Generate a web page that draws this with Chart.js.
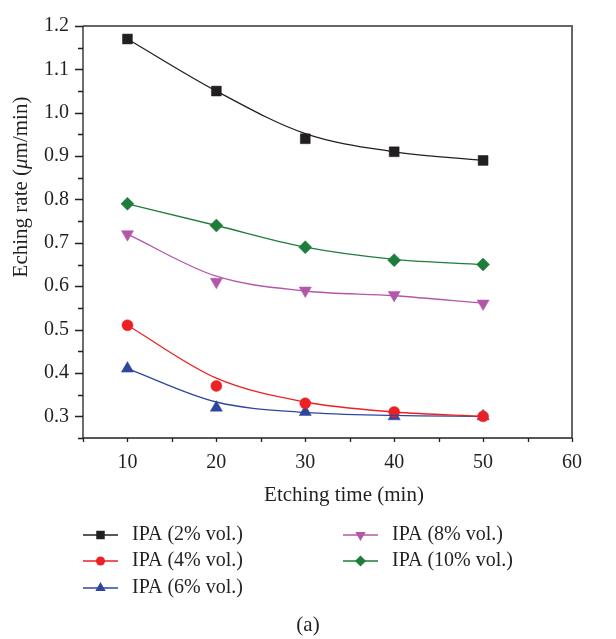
<!DOCTYPE html>
<html>
<head>
<script src="https://cdn.jsdelivr.net/npm/chart.js@4.4.1/dist/chart.umd.min.js"></script>
<style>
    body { margin: 0; background: #fff; }
</style>
</head>
<body>
<canvas id="etchChart" width="616" height="639"></canvas>
<script>
// etching time (min)
const times = [10, 20, 30, 40, 50];

// measured etching rate (um/min)
const ipa2 = [1.17, 1.05, 0.94, 0.91, 0.89];
const ipa4 = [0.51, 0.37, 0.33, 0.31, 0.30];
const ipa6 = [0.41, 0.32, 0.31, 0.30, 0.30];
const ipa8 = [0.72, 0.61, 0.59, 0.58, 0.56];
const ipa10 = [0.79, 0.74, 0.69, 0.66, 0.65];

// fitted curves, same time points
const fit2 = [1.17, 1.05, 0.952, 0.91, 0.89];
const fit4 = [0.51, 0.388, 0.333, 0.31, 0.30];
const fit6 = [0.41, 0.333, 0.309, 0.302, 0.30];
const fit8 = [0.72, 0.623, 0.589, 0.578, 0.561];
const fit10 = [0.79, 0.74, 0.69, 0.662, 0.65];

const seriesNames = ['IPA (2% vol.)', 'IPA (4% vol.)', 'IPA (6% vol.)', 'IPA (8% vol.)', 'IPA (10% vol.)'];
const xTicks = [10, 20, 30, 40, 50, 60];
const yTicks = [0.3, 0.4, 0.5, 0.6, 0.7, 0.8, 0.9, 1.0, 1.1, 1.2];

const FONT = '"Liberation Serif", "Times New Roman", serif';
const INK = '#231f20';

const styles = [
    { color: '#231f20', shape: 'rect', r: 7, rot: 0 },
    { color: '#ed2024', shape: 'circle', r: 5.5, rot: 0 },
    { color: '#2e479c', shape: 'triangle', r: 7, rot: 0 },
    { color: '#b357a8', shape: 'triangle', r: 7, rot: 180 },
    { color: '#1f7d3b', shape: 'rectRot', r: 6.5, rot: 0 }
];

const measured = [ipa2, ipa4, ipa6, ipa8, ipa10];
const fitted = [fit2, fit4, fit6, fit8, fit10];

function pts(vals) {
    return times.map((t, i) => ({ x: t, y: vals[i] }));
}

const datasets = [];
fitted.forEach((f, i) => {
    datasets.push({
        label: seriesNames[i] + ' fit',
        data: pts(f),
        showLine: true,
        borderColor: styles[i].color,
        borderWidth: 1.3,
        pointRadius: 0,
        cubicInterpolationMode: 'monotone'
    });
});
measured.forEach((m, i) => {
    datasets.push({
        label: seriesNames[i],
        data: pts(m),
        showLine: false,
        pointStyle: styles[i].shape,
        pointRotation: styles[i].rot,
        pointRadius: styles[i].r,
        pointBackgroundColor: styles[i].color,
        pointBorderColor: styles[i].color,
        pointBorderWidth: 0.5
    });
});

function near(v, list) {
    return list.some(t => Math.abs(t - v) < 1e-6);
}

// axis frame, ticks, titles, legend and caption
const decor = {
    id: 'decor',
    afterDraw(chart) {
        const { ctx, chartArea: a, scales: { x, y } } = chart;
        ctx.save();

        ctx.strokeStyle = '#666666';
        ctx.lineWidth = 2;
        ctx.beginPath();
        ctx.moveTo(a.left, a.top);
        ctx.lineTo(a.right, a.top);
        ctx.lineTo(a.right, a.bottom);
        ctx.stroke();

        ctx.strokeStyle = INK;
        ctx.lineWidth = 1.3;
        ctx.beginPath();
        y.ticks.forEach(t => {
            const py = Math.round(y.getPixelForValue(t.value)) + 0.5;
            const len = near(t.value, yTicks) ? 8 : 5;
            ctx.moveTo(a.left - len, py);
            ctx.lineTo(a.left, py);
        });
        x.ticks.forEach(t => {
            const px = Math.round(x.getPixelForValue(t.value)) + 0.5;
            ctx.moveTo(px, a.bottom);
            ctx.lineTo(px, a.bottom + 4);
        });
        ctx.moveTo(a.left, a.top);
        ctx.lineTo(a.left, a.bottom);
        ctx.lineTo(a.right, a.bottom);
        ctx.stroke();

        ctx.fillStyle = INK;
        ctx.textBaseline = 'middle';

        // x title
        ctx.textAlign = 'center';
        ctx.font = '21px ' + FONT;
        ctx.fillText('Etching time (min)', 344, 495);

        // y title with italic mu
        ctx.save();
        ctx.translate(21, 187);
        ctx.rotate(-Math.PI / 2);
        const parts = [['Eching rate (', ''], ['\u03bc', 'italic '], ['m/min)', '']];
        let total = 0;
        parts.forEach(p => { ctx.font = p[1] + '21px ' + FONT; total += ctx.measureText(p[0]).width; });
        let cx = -total / 2;
        ctx.textAlign = 'left';
        parts.forEach(p => {
            ctx.font = p[1] + '21px ' + FONT;
            ctx.fillText(p[0], cx, 0);
            cx += ctx.measureText(p[0]).width;
        });
        ctx.restore();

        // legend
        const rows = [535, 561, 588];
        const cols = [83, 343];
        ctx.font = '20px ' + FONT;
        ctx.textAlign = 'left';
        seriesNames.forEach((name, i) => {
            const col = i < 3 ? 0 : 1;
            const ly = rows[i < 3 ? i : i - 3];
            const lx = cols[col];
            const s = styles[i];
            ctx.strokeStyle = s.color;
            ctx.lineWidth = 1.3;
            ctx.beginPath();
            ctx.moveTo(lx, ly);
            ctx.lineTo(lx + 35, ly);
            ctx.stroke();
            ctx.fillStyle = s.color;
            Chart.helpers.drawPoint(ctx, { pointStyle: s.shape, rotation: s.rot, radius: s.r - 1, borderWidth: 0 }, lx + 17.5, ly);
            ctx.fillStyle = INK;
            ctx.fillText(name, lx + 49, ly);
        });

        // panel caption
        ctx.textAlign = 'center';
        ctx.font = '21px ' + FONT;
        ctx.fillText('(a)', 308, 625);

        ctx.restore();
    }
};

new Chart(document.getElementById('etchChart'), {
    type: 'scatter',
    data: { datasets },
    plugins: [decor],
    options: {
        responsive: false,
        animation: false,
        layout: { padding: { top: 15, right: 44, left: 0, bottom: 0 } },
        plugins: {
            legend: { display: false },
            tooltip: { enabled: false }
        },
        scales: {
            x: {
                type: 'linear',
                min: 5,
                max: 60,
                afterFit: s => { s.height = 201; },
                afterBuildTicks: s => {
                    s.ticks = [];
                    for (let v = 5; v <= 60; v += 5) s.ticks.push({ value: v });
                },
                grid: { display: false, drawTicks: false },
                border: { display: false },
                ticks: {
                    padding: 13,
                    color: INK,
                    font: { family: FONT, size: 20 },
                    maxRotation: 0,
                    autoSkip: false,
                    callback: v => near(v, xTicks) ? String(v) : ''
                }
            },
            y: {
                type: 'linear',
                min: 0.25,
                max: 1.2,
                afterFit: s => { s.width = 83; },
                afterBuildTicks: s => {
                    s.ticks = [];
                    for (let k = 5; k <= 24; k++) s.ticks.push({ value: k * 0.05 });
                },
                grid: { display: false, drawTicks: false },
                border: { display: false },
                ticks: {
                    padding: 14,
                    color: INK,
                    font: { family: FONT, size: 20 },
                    autoSkip: false,
                    callback: v => near(v, yTicks) ? v.toFixed(1) : ''
                }
            }
        }
    }
});
</script>
</body>
</html>
